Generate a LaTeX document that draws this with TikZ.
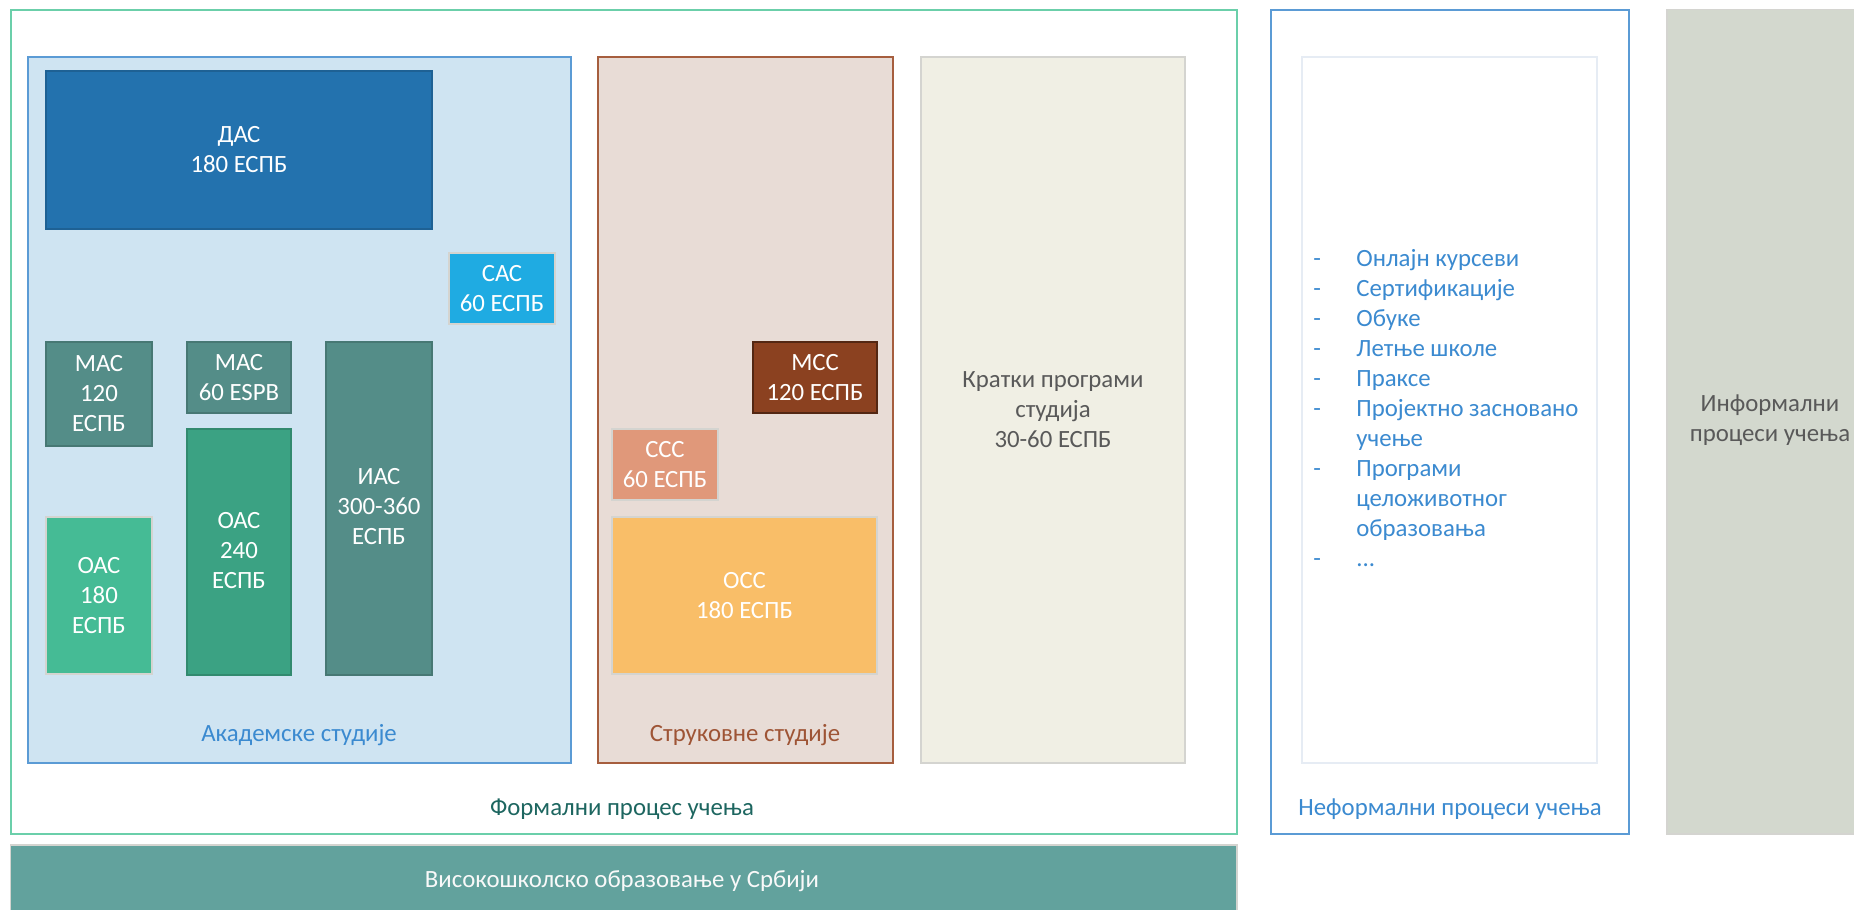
\documentclass[tikz,border=0pt]{standalone}
\usepackage{fontspec}
\setmainfont{Carlito}
\usetikzlibrary{fit}
\definecolor{formalc}{HTML}{6BCFAA}
\definecolor{acadfill}{HTML}{CFE4F2}
\definecolor{acadline}{HTML}{5B9BD5}
\definecolor{dasc}{HTML}{2372AE}
\definecolor{sasc}{HTML}{1FABE2}
\definecolor{masc}{HTML}{548D88}
\definecolor{oas2c}{HTML}{3BA283}
\definecolor{oas1c}{HTML}{45BB95}
\definecolor{strfill}{HTML}{E8DCD6}
\definecolor{strline}{HTML}{A65E3E}
\definecolor{mssc}{HTML}{8B4120}
\definecolor{sssc}{HTML}{E0987A}
\definecolor{ossc}{HTML}{F9BE68}
\definecolor{kratfill}{HTML}{F0EFE4}
\definecolor{lgray}{HTML}{D4D4D0}
\definecolor{barc}{HTML}{62A29D}
\definecolor{infc}{HTML}{D3D8CE}
\definecolor{innerc}{HTML}{E6ECF4}
\definecolor{formtext}{HTML}{1D6660}
\definecolor{bluetext}{HTML}{3B8AD0}
\definecolor{strtext}{HTML}{9E5435}
\definecolor{graytext}{HTML}{595959}
\begin{document}
\begin{tikzpicture}[x=0.5pt,y=-0.5pt,
  area/.style={inner sep=0pt, line width=1pt},
  thinb/.style={inner sep=0pt, line width=0.6pt},
  blk/.style={inner sep=0pt, align=center, text=white, font=\fontsize{12.4}{15}\selectfont},
  lbl/.style={inner sep=0pt, align=center, font=\fontsize{12.4}{15}\selectfont}]
\useasboundingbox (0,0) rectangle (1854,910);
\clip (0,0) rectangle (1854,910);
\fill[white] (0,0) rectangle (1854,910);

% Formal process
\node[area, draw=formalc, fit={(10.6,9.5)(1237,834)}] (formal) {};
\node[lbl, text=formtext] (formallbl) at (622,809) {Формални процес учења};

% Bottom bar
\node[thinb, fill=barc, draw=lgray, fit={(10.6,845)(1237,920)}] (bar) {};
\node[lbl, text=white!95!gray] (barlbl) at (622,881) {Високошколско образовање у Србији};

% Academic studies
\node[area, fill=acadfill, draw=acadline, fit={(28,57)(571,763)}] (acad) {};
\node[lbl, text=bluetext] (acadlbl) at (299,735) {Академске студије};

\node[thinb, fill=dasc, draw=dasc!85!black, fit={(46,71)(432,229)}] (das) {};
\node[blk] (daslbl) at (das.center) {ДАС\\180 ЕСПБ};
\node[thinb, fill=sasc, draw=lgray, fit={(449,253)(555,324)}] (sas) {};
\node[blk] (saslbl) at (sas.center) {САС\\60 ЕСПБ};
\node[thinb, fill=masc, draw=masc!85!black, fit={(46,342)(152,446)}] (mas120) {};
\node[blk] (mas120lbl) at (mas120.center) {МАС\\120\\ЕСПБ};
\node[thinb, fill=masc, draw=masc!85!black, fit={(187,342)(291,413)}] (mas60) {};
\node[blk] (mas60lbl) at (mas60.center) {МАС\\60 ESPB};
\node[thinb, fill=masc, draw=masc!85!black, fit={(326,342)(432,675)}] (ias) {};
\node[blk] (iaslbl) at (379,507) {ИАС\\300-360\\ЕСПБ};
\node[thinb, fill=oas2c, draw=oas2c!85!black, fit={(187,429)(291,675)}] (oas240) {};
\node[blk] (oas240lbl) at (239,551) {ОАС\\240\\ЕСПБ};
\node[thinb, fill=oas1c, draw=lgray, fit={(46,517)(152,674)}] (oas180) {};
\node[blk] (oas180lbl) at (oas180.center) {ОАС\\180\\ЕСПБ};

% Professional studies
\node[area, fill=strfill, draw=strline, fit={(598,57)(893,763)}] (str) {};
\node[lbl, text=strtext] (strlbl) at (745,735) {Струковне студије};
\node[thinb, fill=mssc, draw=mssc!60!black, fit={(753,342)(877,413)}] (mss) {};
\node[blk] (msslbl) at (mss.center) {МСС\\120 ЕСПБ};
\node[thinb, fill=sssc, draw=lgray, fit={(612,429)(718,500)}] (sss) {};
\node[blk] (ssslbl) at (sss.center) {ССС\\60 ЕСПБ};
\node[thinb, fill=ossc, draw=lgray, fit={(612,517)(877,674)}] (oss) {};
\node[blk] (osslbl) at (oss.center) {ОСС\\180 ЕСПБ};

% Short programmes
\node[area, fill=kratfill, draw=lgray, line width=0.8pt, fit={(921,57)(1185,763)}] (krat) {};
\node[lbl, text=graytext] (kratlbl) at (krat.center) {Кратки програми\\студија\\30-60 ЕСПБ};

% Non-formal
\node[area, draw=acadline, fit={(1271,9.5)(1629,834)}] (nonf) {};
\node[area, draw=innerc, line width=0.8pt, fit={(1302,57)(1597,763)}] (inner) {};
\node[lbl, text=bluetext] (nonflbl) at (1450,809) {Неформални процеси учења};
\node[inner sep=0pt, anchor=west, text=bluetext, font=\fontsize{12.4}{15}\selectfont] (list) at (1313,410) {%
\begin{tabular}{@{}p{21.5pt}@{}l@{}}
- & Онлајн курсеви\\
- & Сертификације\\
- & Обуке\\
- & Летње школе\\
- & Праксе\\
- & Пројектно засновано\\
  & учење\\
- & Програми\\
  & целоживотног\\
  & образовања\\
- & ...
\end{tabular}};

% Informal
\node[area, fill=infc, draw=lgray, line width=0.8pt, fit={(1667,9.5)(1873,834)}] (inf) {};
\node[lbl, text=graytext] (inflbl) at (1770,420) {Информални\\процеси учења};
\end{tikzpicture}
\end{document}
